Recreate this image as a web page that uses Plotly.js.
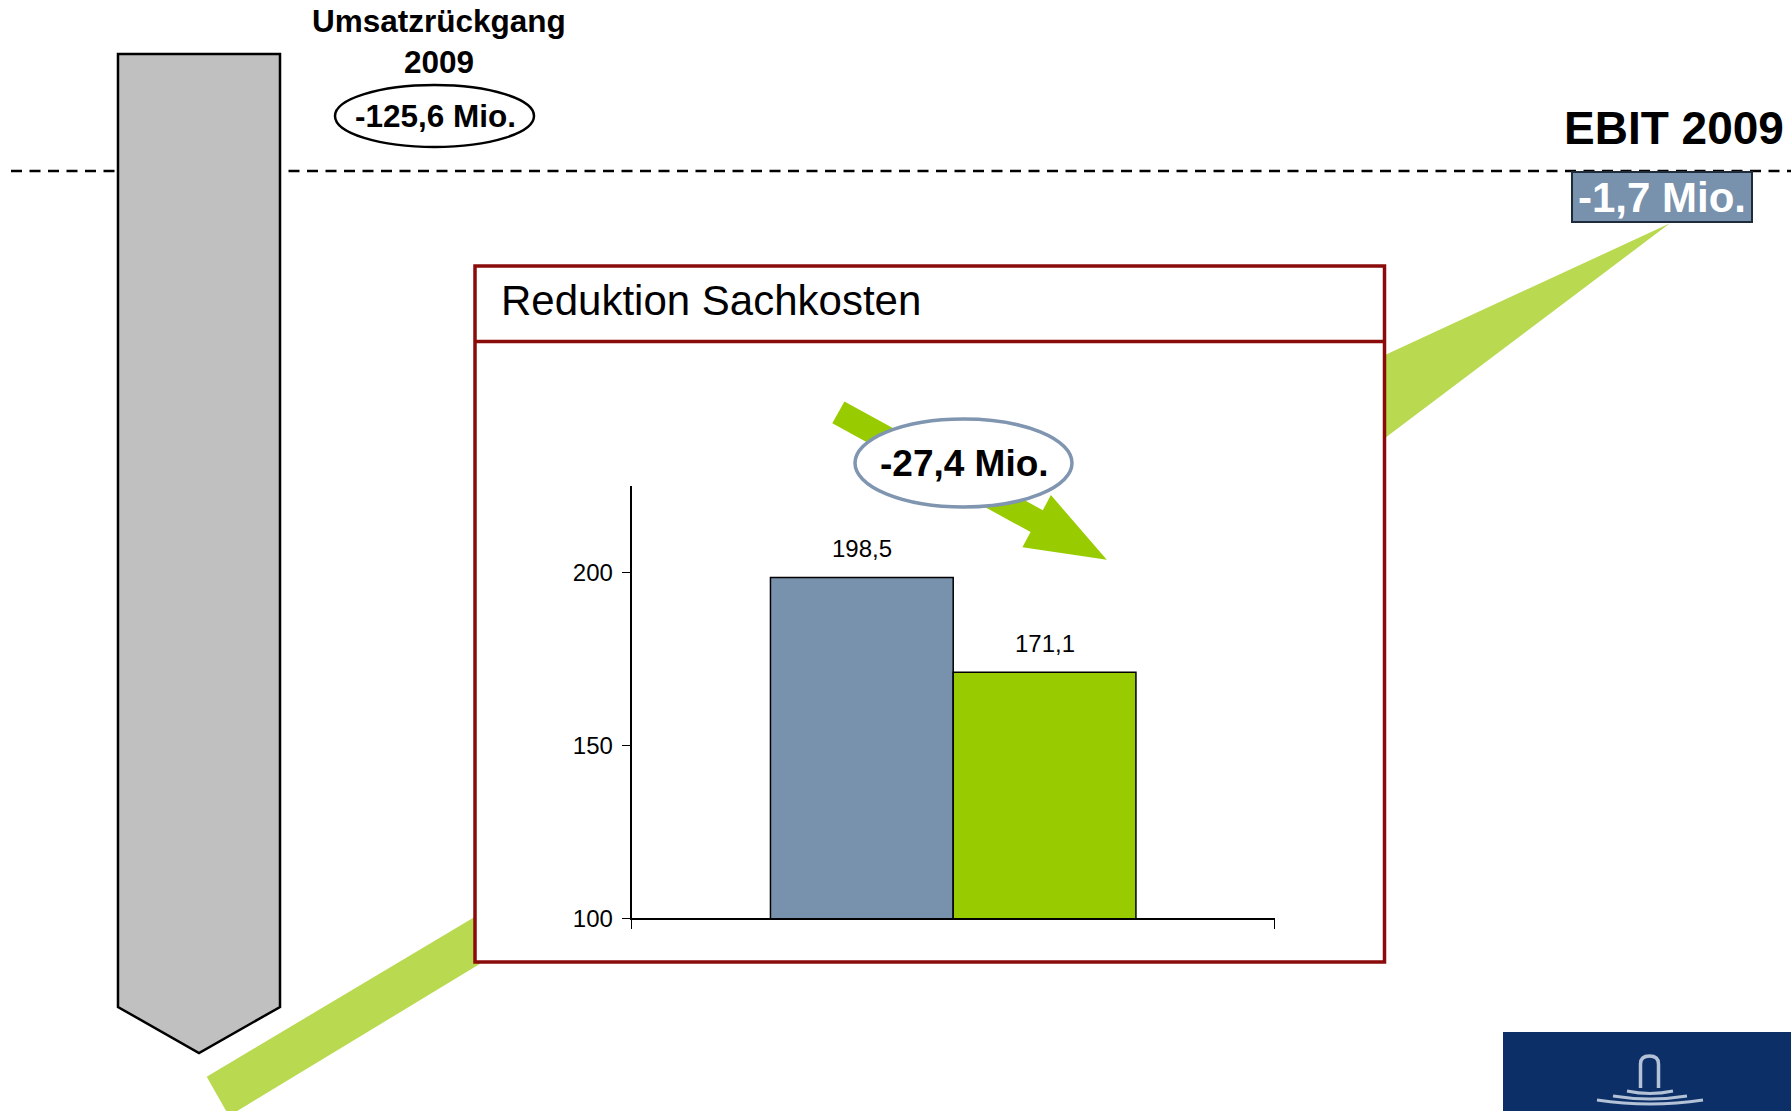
<!DOCTYPE html>
<html>
<head>
<meta charset="utf-8">
<script src="https://cdn.plot.ly/plotly-3.0.1.min.js"></script>
<style>html,body{margin:0;padding:0;background:#fff;}#chart{width:1791px;height:1111px;}</style>
</head>
<body>
<div id="chart"></div>
<script>
// ---- data ----
const categories = ['Sachkosten'];
const seriesNames = ['2008', '2009'];
const values2008 = [198.5];
const values2009 = [171.1];
const yTickValues = [100, 150, 200];
const yTickLabels = ['100', '150', '200'];
const headerText = 'Reduktion Sachkosten';
const deltaText = '-27,4 Mio.';
const revenueTitle = 'Umsatzrückgang<br>2009';
const revenueText = '-125,6 Mio.';
const ebitTitle = 'EBIT 2009';
const ebitText = '-1,7 Mio.';

// ---- page geometry helpers (pixel -> paper) ----
const W = 1791, H = 1111;
const px = x => x / W;
const py = y => 1 - y / H;
function path(points, close) {
  let s = points.map((p, i) => (i ? 'L ' : 'M ') + px(p[0]).toFixed(5) + ' ' + py(p[1]).toFixed(5)).join(' ');
  return close ? s + ' Z' : s;
}
function qpath(a, c, b) {
  return 'M ' + px(a[0]) + ' ' + py(a[1]) + ' Q ' + px(c[0]) + ' ' + py(c[1]) + ' ' + px(b[0]) + ' ' + py(b[1]);
}

const FONT = 'Liberation Sans, Arial, Helvetica, sans-serif';
const BLUE = '#7891AD';
const GREEN = '#99CC00';

const plotL = 631.7, plotR = 1274.7, plotT = 485.8, plotB = 918.3;
const bargap = 0.4316;

const traces = [
  { type: 'bar', name: seriesNames[0], x: categories, y: values2008,
    marker: { color: BLUE, line: { color: '#000', width: 1.5 } }, hoverinfo: 'skip' },
  { type: 'bar', name: seriesNames[1], x: categories, y: values2009,
    marker: { color: GREEN, line: { color: '#000', width: 1.5 } }, hoverinfo: 'skip' }
];

const shapes = [
  // green band in the background
  { type: 'path', layer: 'below', xref: 'paper', yref: 'paper',
    path: path([[206.7,1076.7],[475,916.7],[1385,355],[1670,223.3],[1385,438],[478,965],[229,1116]], true),
    fillcolor: '#B9DA50', line: { width: 0 } },
  // dashed line
  { type: 'line', layer: 'below', xref: 'paper', yref: 'paper',
    x0: px(11), x1: px(1791), y0: py(171), y1: py(171),
    line: { color: '#000', width: 2.6, dash: '11px,7.5px' } },
  // gray arrow
  { type: 'path', layer: 'below', xref: 'paper', yref: 'paper',
    path: path([[118,54],[280,54],[280,1007],[199,1053],[118,1007]], true),
    fillcolor: '#C0C0C0', line: { color: '#000', width: 2.5 } },
  // red box
  { type: 'rect', layer: 'below', xref: 'paper', yref: 'paper',
    x0: px(475), x1: px(1384.5), y0: py(266), y1: py(962),
    fillcolor: '#fff', line: { color: '#8B0A0A', width: 3.5 } },
  { type: 'line', layer: 'below', xref: 'paper', yref: 'paper',
    x0: px(475), x1: px(1384.5), y0: py(341.5), y1: py(341.5),
    line: { color: '#8B0A0A', width: 3.5 } },
  // ellipse revenue
  { type: 'circle', layer: 'below', xref: 'paper', yref: 'paper',
    x0: px(335), x1: px(534), y0: py(85), y1: py(147),
    fillcolor: '#fff', line: { color: '#000', width: 2.5 } },
  // EBIT box
  { type: 'rect', layer: 'below', xref: 'paper', yref: 'paper',
    x0: px(1572), x1: px(1752), y0: py(172), y1: py(222),
    fillcolor: BLUE, line: { color: '#1E2B3A', width: 2 } },
  // green arrow
  { type: 'path', layer: 'above', xref: 'paper', yref: 'paper',
    path: path([[844.4,401.4],[1042.8,510.2],[1050.9,495.1],[1106.8,559.7],[1022.4,547.2],[1030.6,532.1],[832.3,423.3]], true),
    fillcolor: GREEN, line: { width: 0 } },
  // ellipse delta
  { type: 'circle', layer: 'above', xref: 'paper', yref: 'paper',
    x0: px(855), x1: px(1072), y0: py(419), y1: py(507),
    fillcolor: '#fff', line: { color: '#7F95B0', width: 3.5 } },
  // logo
  { type: 'rect', layer: 'above', xref: 'paper', yref: 'paper',
    x0: px(1503), x1: px(1791), y0: py(1032), y1: py(1111),
    fillcolor: '#0B2F66', line: { width: 0 } },
  { type: 'path', layer: 'above', xref: 'paper', yref: 'paper',
    path: 'M ' + px(1640.5) + ' ' + py(1088) + ' L ' + px(1640.5) + ' ' + py(1064) +
          ' Q ' + px(1640.5) + ' ' + py(1056) + ' ' + px(1649.5) + ' ' + py(1056) +
          ' Q ' + px(1658.5) + ' ' + py(1056) + ' ' + px(1658.5) + ' ' + py(1064) +
          ' L ' + px(1658.5) + ' ' + py(1088),
    line: { color: '#B4C2D8', width: 3.5 } },
  { type: 'path', layer: 'above', xref: 'paper', yref: 'paper',
    path: qpath([1627,1091],[1650,1096],[1673,1091]), line: { color: '#B4C2D8', width: 3 } },
  { type: 'path', layer: 'above', xref: 'paper', yref: 'paper',
    path: qpath([1613,1096],[1650,1102],[1687,1096]), line: { color: '#B4C2D8', width: 3 } },
  { type: 'path', layer: 'above', xref: 'paper', yref: 'paper',
    path: qpath([1597,1100],[1650,1108],[1703,1100]), line: { color: '#B4C2D8', width: 3 } }
];

function fmt(v) { return v.toFixed(1).replace('.', ','); }
const barHalf = (plotR - plotL) * (1 - bargap) / 4;

const annotations = [
  { xref: 'paper', yref: 'paper', x: px(438.8), y: py(42), xanchor: 'center', yanchor: 'middle',
    text: revenueTitle, showarrow: false, font: { family: FONT, size: 31.5, weight: 700, color: '#000' } },
  { xref: 'paper', yref: 'paper', x: px(435), y: py(116), xanchor: 'center', yanchor: 'middle',
    text: revenueText, showarrow: false, font: { family: FONT, size: 31.5, weight: 700, color: '#000' } },
  { xref: 'paper', yref: 'paper', x: px(1786), y: py(128), xanchor: 'right', yanchor: 'middle',
    text: ebitTitle, showarrow: false, font: { family: FONT, size: 46, weight: 700, color: '#000' } },
  { xref: 'paper', yref: 'paper', x: px(1662), y: py(197), xanchor: 'center', yanchor: 'middle',
    text: ebitText, showarrow: false, font: { family: FONT, size: 42, weight: 700, color: '#fff' } },
  { xref: 'paper', yref: 'paper', x: px(499), y: py(301), xanchor: 'left', yanchor: 'middle',
    text: headerText, showarrow: false, font: { family: FONT, size: 42, color: '#000' } },
  { xref: 'paper', yref: 'paper', x: px(964), y: py(463), xanchor: 'center', yanchor: 'middle',
    text: deltaText, showarrow: false, font: { family: FONT, size: 37, weight: 700, color: '#000' } },
  { xref: 'x', yref: 'y', x: categories[0], y: values2008[0], xshift: -barHalf, yshift: 29,
    xanchor: 'center', yanchor: 'middle', text: fmt(values2008[0]), showarrow: false,
    font: { family: FONT, size: 24, color: '#000' } },
  { xref: 'x', yref: 'y', x: categories[0], y: values2009[0], xshift: barHalf, yshift: 29,
    xanchor: 'center', yanchor: 'middle', text: fmt(values2009[0]), showarrow: false,
    font: { family: FONT, size: 24, color: '#000' } }
];

const layout = {
  width: W, height: H, autosize: false,
  margin: { l: 0, r: 0, t: 0, b: 0, pad: 0 },
  paper_bgcolor: '#fff', plot_bgcolor: 'rgba(0,0,0,0)',
  showlegend: false, barmode: 'group', bargap: bargap, bargroupgap: 0,
  separators: ',.',
  font: { family: FONT, color: '#000' },
  xaxis: {
    domain: [px(plotL), px(plotR)], type: 'category', range: [-0.5, 0.5],
    showline: true, linecolor: '#000', linewidth: 2,
    ticks: 'outside', tickson: 'boundaries', ticklen: 9, tickwidth: 1.5, tickcolor: '#000',
    showticklabels: false, showgrid: false, zeroline: false, fixedrange: true, automargin: false
  },
  yaxis: {
    domain: [py(plotB), py(plotT)], range: [100, 225],
    tickvals: yTickValues, ticktext: yTickLabels,
    showline: true, linecolor: '#000', linewidth: 2,
    ticks: 'outside', ticklen: 8, tickwidth: 1.5, tickcolor: '#000',
    ticklabelstandoff: 4,
    tickfont: { family: FONT, size: 24, color: '#000' },
    showgrid: false, zeroline: false, fixedrange: true, automargin: false
  },
  shapes: shapes,
  annotations: annotations
};

Plotly.newPlot('chart', traces, layout, { displayModeBar: false, staticPlot: true });
</script>
</body>
</html>
